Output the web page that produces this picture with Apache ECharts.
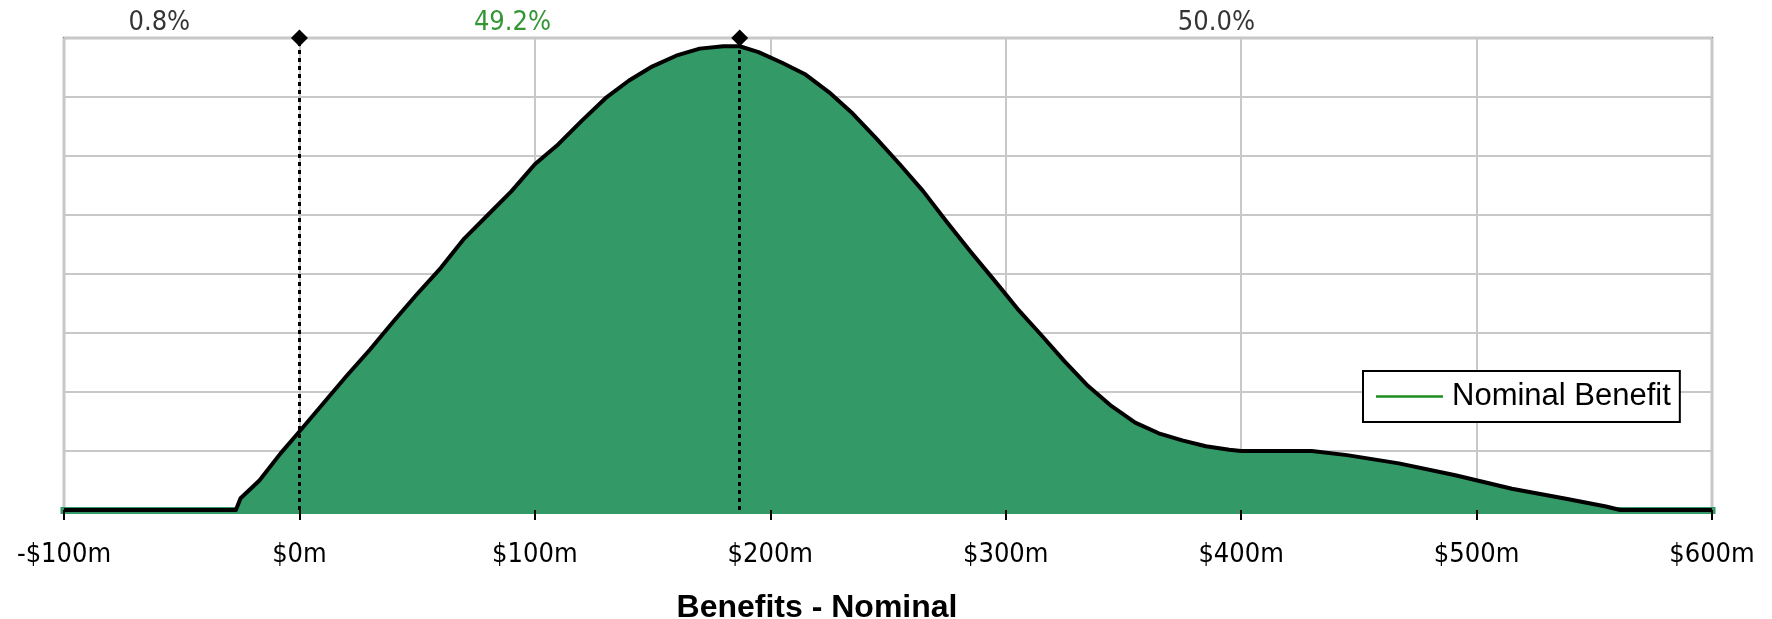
<!DOCTYPE html>
<html>
<head>
<meta charset="utf-8">
<script src="https://cdn.jsdelivr.net/npm/echarts@6/dist/echarts.min.js"></script>
<style>
html,body{margin:0;padding:0;background:#fff;}
#chart{width:1772px;height:619px;}
</style>
</head>
<body>
<div id="chart"></div>
<script>
// Benefit values ($m) and density (relative units, gridline = 1)
const benefitX = [-100, -27, -25, -17, -8, 0, 10, 20, 30, 40, 50, 60, 70, 80, 90, 100, 110, 120, 130, 140, 150, 160, 170, 180, 187, 195, 205, 215, 225, 235, 245, 255, 265, 275, 285, 295, 305, 315, 325, 335, 345, 355, 365, 375, 385, 395, 400, 430, 445, 467, 491, 515, 538, 555, 561, 600];
const densityY = [0, 0, 0.2, 0.5, 0.96, 1.33, 1.8, 2.27, 2.72, 3.2, 3.66, 4.1, 4.6, 5.0, 5.4, 5.86, 6.2, 6.6, 6.98, 7.28, 7.52, 7.7, 7.82, 7.86, 7.86, 7.76, 7.58, 7.38, 7.08, 6.72, 6.3, 5.86, 5.4, 4.88, 4.38, 3.9, 3.41, 2.97, 2.52, 2.1, 1.76, 1.48, 1.3, 1.18, 1.08, 1.02, 1.0, 1.0, 0.93, 0.79, 0.59, 0.36, 0.19, 0.06, 0, 0];
const markerX = [0, 187];
const pctLabels = ['0.8%', '49.2%', '50.0%'];
const pctLabelX = [-59.5, 90.5, 389.5];
const pctLabelColors = ['#000000', '#007a00', '#000000'];
const xTicks = [-100, 0, 100, 200, 300, 400, 500, 600];
const seriesName = 'Nominal Benefit';
const axisTitle = 'Benefits - Nominal';

const condensed = '"DejaVu Sans Condensed", "DejaVu Sans", sans-serif';
const chart = echarts.init(document.getElementById('chart'), null, {renderer: 'canvas'});

const lineData = benefitX.map((x, i) => [x, densityY[i]]);
const labelData = pctLabelX.map((x, i) => ({
  value: [x, 8],
  label: {color: pctLabelColors[i], formatter: pctLabels[i]}
}));

chart.setOption({
  animation: false,
  backgroundColor: '#ffffff',
  title: {
    text: axisTitle,
    left: 812,
    top: 587,
    textAlign: 'center',
    textStyle: {fontFamily: '"Liberation Sans", Arial, sans-serif', fontWeight: 'bold', fontSize: 32, color: '#000'}
  },
  legend: {
    data: [{name: seriesName, icon: 'rect', itemStyle: {color: '#1e8c1e'}}],
    left: 1363,
    top: 371,
    orient: 'vertical',
    itemWidth: 67,
    itemHeight: 2.5,
    itemGap: 0,
    padding: [10, 9, 10, 13],
    borderColor: '#000',
    borderWidth: 2,
    backgroundColor: '#fff',
    textStyle: {fontFamily: '"Liberation Sans", Arial, sans-serif', fontSize: 31, color: '#000', padding: [0, 0, 0, 4]}
  },
  grid: {
    left: 64, right: 60, top: 38, bottom: 109,
    show: true, borderColor: '#8c8c8c', borderWidth: 2.5, backgroundColor: '#fff'
  },
  xAxis: {
    type: 'value', min: -100, max: 600, interval: 100,
    axisLine: {show: true, onZero: false, lineStyle: {color: '#339966', width: 7, cap: 'square'}},
    axisTick: {show: true, length: 10, lineStyle: {color: '#000', width: 2}},
    axisLabel: {
      fontFamily: condensed, fontSize: 27, color: '#000', margin: 31,
      formatter: v => xTicks.includes(v) ? (v < 0 ? '-$' + Math.abs(v) + 'm' : '$' + v + 'm') : ''
    },
    splitLine: {show: true, lineStyle: {color: '#c8c8c8', width: 2}}
  },
  yAxis: {
    type: 'value', min: 0, max: 8, interval: 1,
    axisLabel: {show: false}, axisLine: {show: false}, axisTick: {show: false},
    splitLine: {show: true, lineStyle: {color: '#c8c8c8', width: 2}}
  },
  series: [
    {
      name: seriesName,
      type: 'line',
      data: lineData,
      showSymbol: false,
      smooth: false,
      lineStyle: {color: '#000', width: 4, join: 'round'},
      itemStyle: {color: '#000'},
      areaStyle: {color: '#339966', opacity: 1},
      z: 3,
      markLine: {
        silent: true,
        symbol: ['none', 'diamond'],
        symbolSize: 17,
        label: {show: false},
        lineStyle: {color: '#000', type: [4, 4], width: 3},
        itemStyle: {color: '#000'},
        data: markerX.map(x => ({xAxis: x})),
        z: 5
      }
    },
    {
      name: 'labels',
      type: 'scatter',
      data: labelData,
      symbolSize: 0,
      silent: true,
      label: {show: true, position: 'top', distance: 2, fontFamily: condensed, fontSize: 27}
    }
  ]
});
</script>
</body>
</html>
